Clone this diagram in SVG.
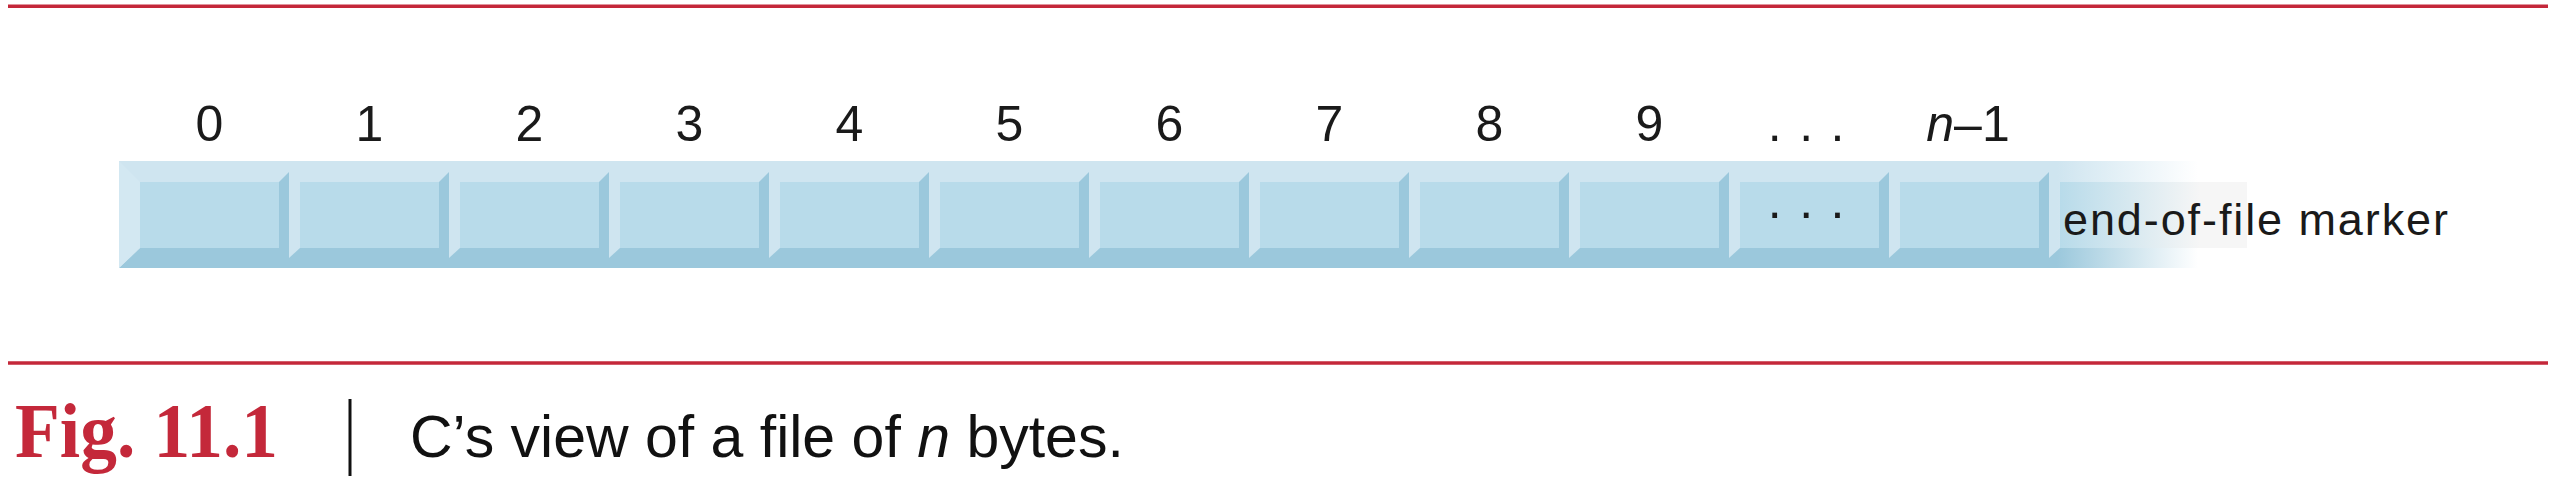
<svg xmlns="http://www.w3.org/2000/svg" width="2554" height="484" viewBox="0 0 2554 484">
  <style>
    .band { fill: #cfe5f0; }
    .dark { fill: #9bc8dc; }
    .face { fill: #b8dbea; }
    .rule { stroke: #c4283a; stroke-width: 3.4; fill: none; }
    .lbl { font-family: "Liberation Sans", Arial, sans-serif; font-size: 50px; fill: #1a1a1a; text-anchor: middle; }
    .eof { font-family: "Liberation Sans", Arial, sans-serif; font-size: 45px; fill: #1a1a1a; }
    .cap { font-family: "Liberation Sans", Arial, sans-serif; font-size: 59px; fill: #111; }
    .fig { font-family: "Liberation Serif", "Times New Roman", serif; font-size: 78px; font-weight: bold; fill: #c4283a; }
  </style>
  <defs>
    <linearGradient id="fadeLight" gradientUnits="userSpaceOnUse" x1="2057" y1="0" x2="2198" y2="0">
      <stop offset="0" stop-color="#cfe5f0"/>
      <stop offset="1" stop-color="#ffffff"/>
    </linearGradient>
    <linearGradient id="fadeDark" gradientUnits="userSpaceOnUse" x1="2057" y1="0" x2="2198" y2="0">
      <stop offset="0" stop-color="#9bc8dc"/>
      <stop offset="1" stop-color="#ffffff"/>
    </linearGradient>
    <linearGradient id="fadeFace" gradientUnits="userSpaceOnUse" x1="2060" y1="0" x2="2200" y2="0">
      <stop offset="0" stop-color="#b8dbea"/>
      <stop offset="1" stop-color="#f6f6f6"/>
    </linearGradient>
  </defs>

  <rect width="2554" height="484" fill="#ffffff"/>

  <g id="rules">
    <line class="rule" x1="8" y1="6.3" x2="2548" y2="6.3"/>
    <line class="rule" x1="8" y1="363" x2="2548" y2="363"/>
  </g>

  <g id="bar">
    <rect class="band" x="119" y="161" width="1930" height="107"/>
    <polygon class="dark" points="119,268 140,248 2049,248 2049,268"/>
    <polygon fill="#d3e8f2" points="119,161 140,182 140,248 119,268"/>
    <rect x="2049" y="161" width="151" height="87" fill="url(#fadeLight)"/>
    <rect x="2049" y="248" width="151" height="20" fill="url(#fadeDark)"/>
    <rect class="band" x="2049" y="172" width="8" height="76"/>
    <polygon class="band" points="2049,248 2060,248 2049,258"/>
  </g>

  <g id="cell-0">
    <rect class="face" x="140" y="182" width="139" height="66"/>
    <polygon class="dark" points="279,182 289,172 289,268 279,268"/>
    <text class="lbl" x="209.5" y="140.5">0</text>
  </g>
  <g id="cell-1">
    <polygon class="band" points="289,248 300,248 289,258"/>
    <rect class="face" x="300" y="182" width="139" height="66"/>
    <polygon class="dark" points="439,182 449,172 449,268 439,268"/>
    <text class="lbl" x="369.5" y="140.5">1</text>
  </g>
  <g id="cell-2">
    <polygon class="band" points="449,248 460,248 449,258"/>
    <rect class="face" x="460" y="182" width="139" height="66"/>
    <polygon class="dark" points="599,182 609,172 609,268 599,268"/>
    <text class="lbl" x="529.5" y="140.5">2</text>
  </g>
  <g id="cell-3">
    <polygon class="band" points="609,248 620,248 609,258"/>
    <rect class="face" x="620" y="182" width="139" height="66"/>
    <polygon class="dark" points="759,182 769,172 769,268 759,268"/>
    <text class="lbl" x="689.5" y="140.5">3</text>
  </g>
  <g id="cell-4">
    <polygon class="band" points="769,248 780,248 769,258"/>
    <rect class="face" x="780" y="182" width="139" height="66"/>
    <polygon class="dark" points="919,182 929,172 929,268 919,268"/>
    <text class="lbl" x="849.5" y="140.5">4</text>
  </g>
  <g id="cell-5">
    <polygon class="band" points="929,248 940,248 929,258"/>
    <rect class="face" x="940" y="182" width="139" height="66"/>
    <polygon class="dark" points="1079,182 1089,172 1089,268 1079,268"/>
    <text class="lbl" x="1009.5" y="140.5">5</text>
  </g>
  <g id="cell-6">
    <polygon class="band" points="1089,248 1100,248 1089,258"/>
    <rect class="face" x="1100" y="182" width="139" height="66"/>
    <polygon class="dark" points="1239,182 1249,172 1249,268 1239,268"/>
    <text class="lbl" x="1169.5" y="140.5">6</text>
  </g>
  <g id="cell-7">
    <polygon class="band" points="1249,248 1260,248 1249,258"/>
    <rect class="face" x="1260" y="182" width="139" height="66"/>
    <polygon class="dark" points="1399,182 1409,172 1409,268 1399,268"/>
    <text class="lbl" x="1329.5" y="140.5">7</text>
  </g>
  <g id="cell-8">
    <polygon class="band" points="1409,248 1420,248 1409,258"/>
    <rect class="face" x="1420" y="182" width="139" height="66"/>
    <polygon class="dark" points="1559,182 1569,172 1569,268 1559,268"/>
    <text class="lbl" x="1489.5" y="140.5">8</text>
  </g>
  <g id="cell-9">
    <polygon class="band" points="1569,248 1580,248 1569,258"/>
    <rect class="face" x="1580" y="182" width="139" height="66"/>
    <polygon class="dark" points="1719,182 1729,172 1729,268 1719,268"/>
    <text class="lbl" x="1649.5" y="140.5">9</text>
  </g>
  <g id="cell-ellipsis">
    <polygon class="band" points="1729,248 1740,248 1729,258"/>
    <rect class="face" x="1740" y="182" width="139" height="66"/>
    <polygon class="dark" points="1879,182 1889,172 1889,268 1879,268"/>
    <text class="lbl" x="1807" y="140.5" letter-spacing="1.8">. . .</text>
    <text class="lbl" x="1807" y="218" letter-spacing="1.8">. . .</text>
  </g>
  <g id="cell-n-1">
    <polygon class="band" points="1889,248 1900,248 1889,258"/>
    <rect class="face" x="1900" y="182" width="139" height="66"/>
    <polygon class="dark" points="2039,182 2049,172 2049,268 2039,268"/>
    <text class="lbl" x="1968" y="140.5"><tspan font-style="italic">n</tspan>–1</text>
  </g>
  <g id="eof-marker">
    <rect x="2060" y="182" width="187" height="66" fill="url(#fadeFace)"/>
    <text class="eof" x="2063" y="235" textLength="385" lengthAdjust="spacing">end-of-file marker</text>
  </g>

  <g id="caption">
    <text class="fig" x="15" y="457" textLength="263" lengthAdjust="spacingAndGlyphs">Fig. 11.1</text>
    <line x1="350" y1="399" x2="350" y2="476" stroke="#111" stroke-width="3"/>
    <text class="cap" x="410" y="457">C’s view of a file of <tspan font-style="italic">n</tspan> bytes.</text>
  </g>
</svg>
